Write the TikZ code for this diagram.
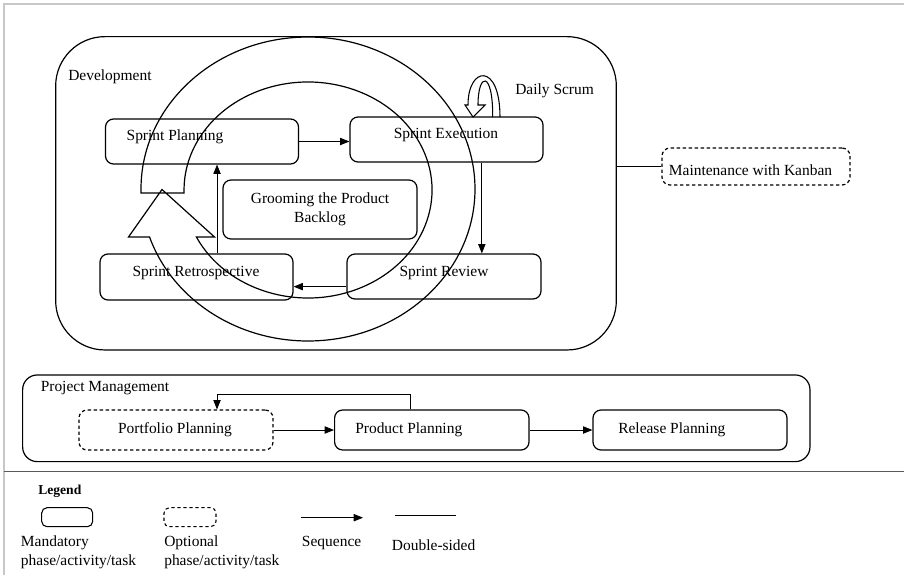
\documentclass[tikz,border=0pt]{standalone}
\usepackage{fontspec}
\setmainfont{Liberation Serif}
\usetikzlibrary{arrows.meta}
\begin{document}
\begin{tikzpicture}[x=0.75pt,y=-0.75pt,
  box/.style={draw, line width=0.9pt, rounded corners=6pt, inner sep=0pt},
  optbox/.style={box, dash pattern=on 2.5pt off 2pt},
  seq/.style={line width=0.6pt, -{Triangle[length=7pt,width=5.5pt]}},
  plain/.style={line width=0.6pt},
  lbl/.style={font=\fontsize{11.6}{14.25}\selectfont, inner sep=0pt},
  ring/.style={line width=0.9pt, line join=miter}
]
\useasboundingbox (0,0) rectangle (904,575);

% page frame and separator above the legend
\draw[black!22, line width=0.8pt] (904,4) -- (4,4) -- (4,575);
\draw[black!65, line width=0.8pt] (4,471.7) -- (904,471.7);

% phase containers
\node[box, rounded corners=37pt, minimum width=420.5pt, minimum height=235pt] (dev) at (336,193.3) {};
\node[box, rounded corners=11pt, minimum width=590.5pt, minimum height=65pt] (pm) at (416.3,418.3) {};
\node[lbl, anchor=west] (devlbl) at (68,77) {Development};
\node[lbl, anchor=west] (pmlbl) at (40.5,388) {Project Management};

% sprint activities
\node[box, minimum width=144.75pt, minimum height=33.75pt] (sp) at (202,141.5) {};
\node[box, minimum width=144.75pt, minimum height=33.75pt] (se) at (446.5,139.5) {};
\node[box, minimum width=145.5pt, minimum height=44.25pt] (gr) at (320,209.5) {};
\node[box, minimum width=144.75pt, minimum height=34.5pt] (rt) at (196.5,277) {};
\node[box, minimum width=145.5pt, minimum height=33.75pt] (rv) at (444,276.5) {};
\node[optbox, minimum width=141pt, minimum height=27.75pt] (mk) at (756,166.5) {};

\node[lbl] (sptxt) at (175,137) {Sprint Planning};
\node[lbl] (setxt) at (446,135) {Sprint Execution};
\node[lbl, align=center] (grtxt) at (320,209.5) {Grooming the Product\\Backlog};
\node[lbl] (rttxt) at (196,273) {Sprint Retrospective};
\node[lbl] (rvtxt) at (444,273) {Sprint Review};
\node[lbl] (mktxt) at (750.5,170) {Maintenance with Kanban};
\node[lbl, anchor=west] (dstxt) at (515,91) {Daily Scrum};

% planning activities
\node[optbox, minimum width=145.5pt, minimum height=30pt] (pf) at (176,430) {};
\node[box, minimum width=145.8pt, minimum height=30pt] (pp) at (431.8,430) {};
\node[box, minimum width=145.5pt, minimum height=30pt] (rl) at (690,430) {};
\node[lbl] (pftxt) at (175,430) {Portfolio Planning};
\node[lbl, anchor=west] (pptxt) at (355,430) {Product Planning};
\node[lbl, anchor=west] (rltxt) at (618,430) {Release Planning};

% sequence within the sprint
\draw[seq] (sp.east) -- (sp.east -| se.west);
\draw[seq] ([xshift=26.5pt]se.south) -- ([xshift=26.5pt]se.south |- rv.north);
\draw[seq] ([yshift=-7.6pt]rv.west) -- ([yshift=-7.6pt]rv.west -| rt.east);
\draw[seq] ([xshift=15.4pt]rt.north) -- ([xshift=15.4pt]rt.north |- sp.south);

% development to maintenance
\draw[plain] (dev.east |- mk.west) -- (mk.west);

% planning sequence and feedback
\draw[seq] (pf.east) -- (pp.west);
\draw[seq] (pp.east) -- (rl.west);
\draw[seq] ([xshift=-15.75pt]pp.north) -- ++(0,-15) -| ([xshift=30.75pt]pf.north);

% sprint cycle: circular block arrow
\draw[ring] (308,189) ++(178.5:167 and 152)
  arc[start angle=178.5, end angle=521.6, x radius=167, y radius=152]
  -- (128.5,237) -- (162,189.5) -- (214.5,237) -- (196.4,237)
  arc[start angle=514.2, end angle=178.4, x radius=124, y radius=108]
  -- cycle;

% daily scrum loop on sprint execution
\draw[ring, line width=0.8pt] (492.7,117) .. controls (493,70) and (478,72) .. (478,105)
  -- (485,105) -- (473,117) -- (465,105) -- (468,105)
  .. controls (468,66) and (500,62) .. (500,117);

% legend
\node[lbl, anchor=west, font=\fontsize{10.2}{12}\selectfont\bfseries] (lgtitle) at (38,491) {Legend};
\node[box, rounded corners=4pt, line width=0.8pt, minimum width=38.25pt, minimum height=14.25pt] (lgmand) at (67.2,517.2) {};
\node[optbox, rounded corners=4pt, line width=0.8pt, minimum width=39pt, minimum height=14.25pt] (lgopt) at (190,517.2) {};
\coordinate (sqa) at (301,517.7);
\coordinate (sqb) at (363,517.7);
\draw[seq] (sqa) -- (sqb);
\coordinate (dsa) at (395,515.7);
\coordinate (dsb) at (455.7,515.7);
\draw[plain] (dsa) -- (dsb);
\node[lbl, anchor=west, align=left] (lgmandtxt) at (20.7,552.5) {Mandatory\\phase/activity/task};
\node[lbl, anchor=west, align=left] (lgopttxt) at (164,552.5) {Optional\\phase/activity/task};
\node[lbl, anchor=west] (lgseqtxt) at (301.7,543) {Sequence};
\node[lbl, anchor=west] (lgdstxt) at (391.7,545) {Double-sided};
\end{tikzpicture}
\end{document}
